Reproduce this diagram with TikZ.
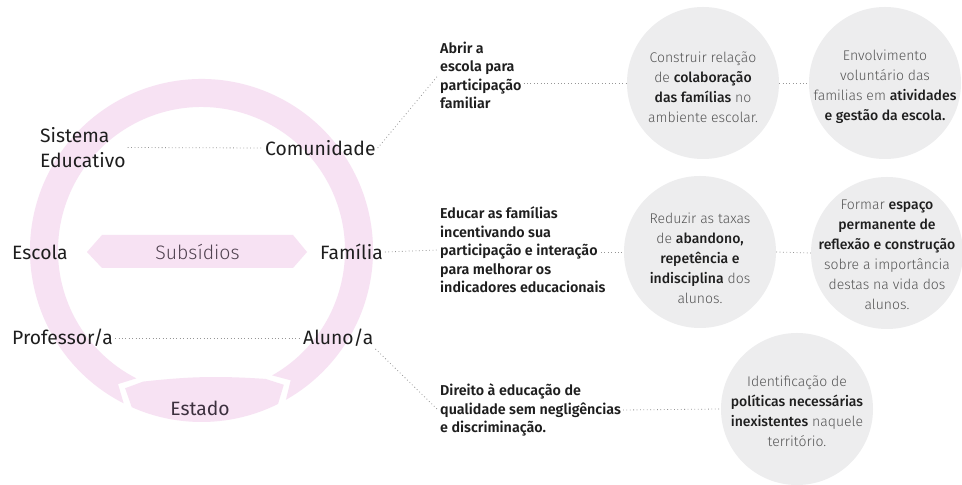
\documentclass[tikz,border=0pt]{standalone}
\usepackage{fontspec}
\setmainfont{Fira Sans}
\newfontfamily\lightf{Fira Sans Light}
\newfontfamily\medf{Fira Sans Medium}
\newfontfamily\semif{Fira Sans SemiBold}
\definecolor{ringpink}{RGB}{247,226,243}
\definecolor{circfill}{RGB}{237,237,238}
\definecolor{darktxt}{RGB}{30,30,30}
\definecolor{graytxt}{RGB}{85,85,85}
\definecolor{subtxt}{RGB}{80,66,80}
\definecolor{esttxt}{RGB}{60,48,62}
\definecolor{dotgray}{RGB}{150,150,150}
\newcommand\bb[1]{{\medf\color{darktxt}#1}}
\begin{document}
\begin{tikzpicture}[x=1pt,y=1pt,
  lbl/.style={font=\fontsize{19.3}{25}\selectfont, text=darktxt, inner sep=2pt, align=left},
  midtxt/.style={font=\semif\fontsize{14.3}{18.5}\selectfont, text=darktxt, inner sep=2pt, align=left},
  circ/.style={circle, fill=circfill, minimum size=152pt, inner sep=0pt},
  ctext/.style={font=\lightf\fontsize{14}{20}\selectfont, text=graytxt, align=center, inner sep=0pt},
  dotline/.style={draw=dotgray, line width=0.8pt, dash pattern=on 0.8pt off 2.6pt},
  ringfill/.style={fill=ringpink}]
\useasboundingbox (0,0) rectangle (962,485);
\fill[white] (0,0) rectangle (962,485);

% ring
\begin{scope}[shift={(201.5,234.5)}]
  \fill[ringfill] (-117:171.5) arc[start angle=-117, end angle=-420.5, radius=171.5]
    -- (-415.5:157.5) -- (-420.5:143.5)
    arc[start angle=-420.5, end angle=-117, radius=143.5]
    -- (-122:157.5) -- cycle;
  \fill[ringfill] (-58.5:157.5) -- (-63.5:171.5)
    arc[start angle=-63.5, end angle=-114, radius=171.5]
    -- (-119:157.5) -- (-114:143.5) to[bend left=5] (-63.5:143.5) -- cycle;
\end{scope}

% Subsidios double arrow
\fill[ringfill] (87,233) -- (102,250) -- (293,250) -- (307,233) -- (293,217) -- (102,217) -- cycle;
\node[font=\lightf\fontsize{19.5}{24}\selectfont, text=subtxt] (sub) at (197.5,233) {Subsídios};

% left labels
\node[lbl, anchor=west] (se) at (38,337.5) {Sistema\\Educativo};
\node[lbl, anchor=west] (com) at (263,337) {Comunidade};
\node[lbl, anchor=west] (esc) at (10,233) {Escola};
\node[lbl, anchor=west] (fam) at (318,233) {Família};
\node[lbl, anchor=west] (prof) at (10,147) {Professor/a};
\node[lbl, anchor=west] (alu) at (301,147) {Aluno/a};
\node[lbl, text=esttxt] (est) at (200,77) {Estado};

% middle blocks
\node[midtxt, anchor=west] (b1) at (438,409.5) {Abrir a\\escola para\\participação\\familiar};
\node[midtxt, anchor=west] (b2) at (438,235) {Educar as famílias\\incentivando sua\\participação e interação\\para melhorar os\\indicadores educacionais};
\node[midtxt, anchor=west] (b3) at (438,75) {Direito à educação de\\qualidade sem negligências\\e discriminação.};

% circles
\node[circ] (c1) at (703,402) {};
\node[circ] (c2) at (885,402) {};
\node[circ] (c3) at (700,233) {};
\node[circ] (c4) at (887,232) {};
\node[circ] (c5) at (797,76) {};

\node[ctext] (t1) at (703,398) {Construir relação\\de \bb{colaboração}\\\bb{das famílias} no\\ambiente escolar.};
\node[ctext] (t2) at (885,398) {Envolvimento\\voluntário das\\familias em \bb{atividades}\\\bb{e gestão da escola.}};
\node[ctext] (t3) at (700,227) {Reduzir as taxas\\de \bb{abandono,}\\\bb{repetência e}\\\bb{indisciplina} dos\\alunos.};
\node[ctext] (t4) at (887,230) {Formar \bb{espaço}\\\bb{permanente de}\\\bb{reflexão e construção}\\sobre a importância\\destas na vida dos\\alunos.};
\node[ctext] (t5) at (797,74) {Identificação de\\\bb{políticas necessárias}\\\bb{inexistentes} naquele\\território.};

% connectors
\coordinate (b2e) at (601,233);
\draw[dotline] (se.east) -- (com.west);
\draw[dotline] (prof.east) -- (alu.west);
\draw[dotline] (com.east) -- (b1.west);
\draw[dotline] (fam.east) -- (b2.west);
\draw[dotline] (alu.south east) -- (b3.west);
\draw[dotline] (b1.east |- c1.west) -- (c1.west);
\draw[dotline] (c1.east) -- (c2.west);
\draw[dotline] (b2e) -- (c3.west);
\draw[dotline] (c3.east) -- (c4.west);
\draw[dotline] (b3.east) -- (c5.west);
\end{tikzpicture}
\end{document}
